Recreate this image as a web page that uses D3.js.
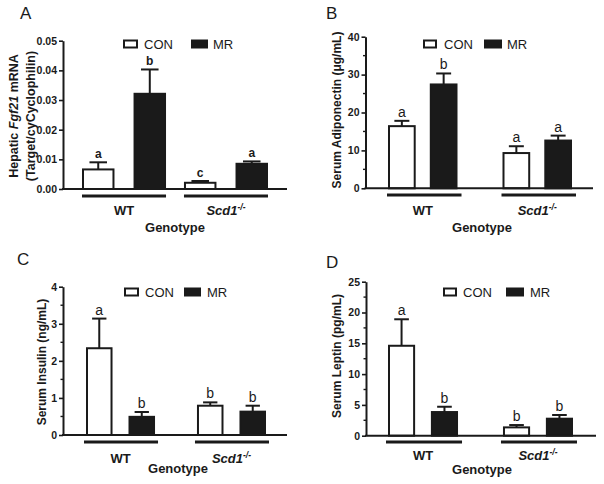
<!DOCTYPE html>
<html><head><meta charset="utf-8">
<script src="https://cdn.jsdelivr.net/npm/d3@7"></script>
<style>
body{margin:0;background:#fff}
svg{display:block}
text{font-family:"Liberation Sans",Arial,sans-serif;fill:#1a1a1a}
</style>
</head><body>
<svg id="chart" width="604" height="484"></svg>
<script>
// ---------- data ----------
const genotypes = ["WT", "Scd1"];
const treatments = ["CON", "MR"];

// A: Hepatic Fgf21 mRNA
const fgf21Con = [0.0066, 0.0021];
const fgf21ConErr = [0.0024, 0.0006];
const fgf21Mr = [0.0321, 0.0085];
const fgf21MrErr = [0.0082, 0.0008];
const fgf21Letters = [["a", "b"], ["c", "a"]];
const fgf21Ticks = [0, 0.01, 0.02, 0.03, 0.04, 0.05];
const fgf21TickLabels = ["0.00", "0.01", "0.02", "0.03", "0.04", "0.05"];

// B: Serum Adiponectin
const adipoCon = [16.4, 9.3];
const adipoConErr = [1.4, 1.8];
const adipoMr = [27.4, 12.6];
const adipoMrErr = [2.9, 1.3];
const adipoLetters = [["a", "b"], ["a", "a"]];
const adipoTicks = [0, 10, 20, 30, 40];
const adipoTickLabels = ["0", "10", "20", "30", "40"];

// C: Serum Insulin
const insulinCon = [2.34, 0.79];
const insulinConErr = [0.80, 0.09];
const insulinMr = [0.49, 0.63];
const insulinMrErr = [0.13, 0.16];
const insulinLetters = [["a", "b"], ["b", "b"]];
const insulinTicks = [0, 1, 2, 3, 4];
const insulinTickLabels = ["0", "1", "2", "3", "4"];

// D: Serum Leptin
const leptinCon = [14.6, 1.35];
const leptinConErr = [4.3, 0.38];
const leptinMr = [3.84, 2.76];
const leptinMrErr = [0.86, 0.6];
const leptinLetters = [["a", "b"], ["b", "b"]];
const leptinTicks = [0, 5, 10, 15, 20, 25];
const leptinTickLabels = ["0", "5", "10", "15", "20", "25"];

// ---------- layout ----------
const panels = [
  {id:"A", con:fgf21Con, conErr:fgf21ConErr, mr:fgf21Mr, mrErr:fgf21MrErr, letters:fgf21Letters,
   ticks:fgf21Ticks, tickLabels:fgf21TickLabels, minor:false, letterBold:true, letterSize:12,
   y0:189, y1:40.7, ax0:63, ax1:287, xb0:82, xb1:268, gp:0.176, sp:0.37, lineY:196, lineExt:[0,0],
   labelX:[14,31], labelY:116, labelSize:12.5, groupY:215, genoY:232, genoX:175,
   leg:{y:44, con:123, mr:191, conW:15, mrW:17, conT:144, mrT:213},
   letterPos:[20,19]},
  {id:"B", con:adipoCon, conErr:adipoConErr, mr:adipoMr, mrErr:adipoMrErr, letters:adipoLetters,
   ticks:adipoTicks, tickLabels:adipoTickLabels, minor:true, letterBold:false, letterSize:14,
   y0:188.3, y1:36.7, ax0:365.5, ax1:593, xb0:388, xb1:572, gp:0.393, sp:0.337, lineY:195, lineExt:[1,4],
   labelX:[337], labelY:110, labelSize:12, groupY:215, genoY:232, genoX:482,
   leg:{y:44, con:423, mr:484, conW:14, mrW:18, conT:444, mrT:507},
   letterPos:[326,19]},
  {id:"C", con:insulinCon, conErr:insulinConErr, mr:insulinMr, mrErr:insulinMrErr, letters:insulinLetters,
   ticks:insulinTicks, tickLabels:insulinTickLabels, minor:true, letterBold:false, letterSize:14,
   y0:435, y1:286.7, ax0:63, ax1:287, xb0:86, xb1:266, gp:0.378, sp:0.376, lineY:442, lineExt:[2,3],
   labelX:[42], labelY:362, labelSize:12, groupY:463, genoY:473, genoX:178,
   leg:{y:292, con:124, mr:184, conW:15, mrW:17, conT:145, mrT:207},
   letterPos:[17,265]},
  {id:"D", con:leptinCon, conErr:leptinConErr, mr:leptinMr, mrErr:leptinMrErr, letters:leptinLetters,
   ticks:leptinTicks, tickLabels:leptinTickLabels, minor:true, letterBold:false, letterSize:14,
   y0:435.7, y1:281.7, ax0:366, ax1:596, xb0:388, xb1:573, gp:0.391, sp:0.368, lineY:442, lineExt:[2,4],
   labelX:[337], labelY:356, labelSize:12, groupY:460, genoY:474, genoX:482,
   leg:{y:292, con:443, mr:506, conW:14, mrW:18, conT:463, mrT:530},
   letterPos:[326,268]}
];
const yLabels = {
  A: [["Hepatic ", ["Fgf21", "italic"], " mRNA"], ["(Target/cyCyclophilin)"]],
  B: [["Serum Adiponectin (μg/mL)"]],
  C: [["Serum Insulin (ng/mL)"]],
  D: [["Serum Leptin (pg/mL)"]]
};

const svg = d3.select("#chart");
svg.append("rect").attr("width", 604).attr("height", 484).attr("fill", "#fff");

panels.forEach(p => {
  const g = svg.append("g");
  const ymax = p.ticks[p.ticks.length - 1];
  const y = d3.scaleLinear().domain([0, ymax]).range([p.y0, p.y1]);
  const xg = d3.scaleBand().domain(genotypes).range([p.xb0, p.xb1]).paddingInner(p.gp).paddingOuter(0);
  const xs = d3.scaleBand().domain(treatments).range([0, xg.bandwidth()]).paddingInner(p.sp).paddingOuter(0);

  const rows = [];
  genotypes.forEach((gen, i) => {
    rows.push({gen, tr:"CON", v:p.con[i], e:p.conErr[i], l:p.letters[i][0]});
    rows.push({gen, tr:"MR", v:p.mr[i], e:p.mrErr[i], l:p.letters[i][1]});
  });

  // error bars (upper only)
  rows.forEach(r => {
    const cx = xg(r.gen) + xs(r.tr) + xs.bandwidth() / 2;
    const capW = xs.bandwidth() * 0.27;
    g.append("line").attr("x1", cx).attr("x2", cx).attr("y1", y(r.v)).attr("y2", y(r.v + r.e))
      .attr("stroke", "#1a1a1a").attr("stroke-width", 2);
    g.append("line").attr("x1", cx - capW).attr("x2", cx + capW).attr("y1", y(r.v + r.e)).attr("y2", y(r.v + r.e))
      .attr("stroke", "#1a1a1a").attr("stroke-width", 2);
    g.append("text").attr("x", cx).attr("y", y(r.v + r.e) - 4)
      .attr("text-anchor", "middle").attr("font-size", p.letterSize)
      .attr("font-weight", p.letterBold ? "bold" : "normal").text(r.l);
  });

  // bars
  g.selectAll("rect.bar").data(rows).join("rect").attr("class", "bar")
    .attr("x", r => xg(r.gen) + xs(r.tr) + 1)
    .attr("width", xs.bandwidth() - 2)
    .attr("y", r => y(r.v))
    .attr("height", r => y(0) - y(r.v))
    .attr("fill", r => r.tr === "CON" ? "#fff" : "#1a1a1a")
    .attr("stroke", "#1a1a1a").attr("stroke-width", 2);

  // y axis
  const ax = g.append("g").attr("transform", `translate(${p.ax0},0)`)
    .call(d3.axisLeft(y).tickValues(p.ticks).tickFormat((d, i) => p.tickLabels[i]).tickSize(4).tickSizeOuter(0).tickPadding(2));
  ax.select(".domain").attr("stroke", "#1a1a1a").attr("stroke-width", 2);
  ax.selectAll(".tick line").attr("stroke", "#1a1a1a").attr("stroke-width", 1.6);
  ax.selectAll(".tick text").attr("font-size", 10.5).attr("font-weight", "bold")
    .attr("font-family", '"Liberation Sans",Arial,sans-serif').attr("fill", "#1a1a1a");
  if (p.minor) {
    const step = p.ticks[1] - p.ticks[0];
    const minorVals = p.ticks.slice(0, -1).map(t => t + step / 2);
    g.selectAll("line.minor").data(minorVals).join("line").attr("class", "minor")
      .attr("x1", p.ax0 - 2.5).attr("x2", p.ax0).attr("y1", d => y(d)).attr("y2", d => y(d))
      .attr("stroke", "#1a1a1a").attr("stroke-width", 1.4);
  }
  // x axis line
  g.append("line").attr("x1", p.ax0 - 1).attr("x2", p.ax1).attr("y1", y(0)).attr("y2", y(0))
    .attr("stroke", "#1a1a1a").attr("stroke-width", 2);

  // group underlines and labels
  genotypes.forEach(gen => {
    g.append("line").attr("x1", xg(gen) - p.lineExt[0]).attr("x2", xg(gen) + xg.bandwidth() + p.lineExt[1])
      .attr("y1", p.lineY).attr("y2", p.lineY).attr("stroke", "#1a1a1a").attr("stroke-width", 3);
    const t = g.append("text").attr("x", xg(gen) + xg.bandwidth() / 2).attr("y", p.groupY)
      .attr("text-anchor", "middle").attr("font-size", 13).attr("font-weight", "bold");
    if (gen === "WT") t.text("WT");
    else {
      t.attr("font-style", "italic");
      t.append("tspan").text("Scd1");
      t.append("tspan").attr("dy", -5).attr("font-size", 8.5).text("-/-");
    }
  });
  g.append("text").attr("x", p.genoX).attr("y", p.genoY).attr("text-anchor", "middle")
    .attr("font-size", 13).attr("font-weight", "bold").text("Genotype");

  // y label
  yLabels[p.id].forEach((line, li) => {
    const t = g.append("text").attr("transform", `translate(${p.labelX[li]},${p.labelY}) rotate(-90)`)
      .attr("text-anchor", "middle").attr("dy", "0.35em").attr("font-size", p.labelSize).attr("font-weight", "bold");
    line.forEach(part => {
      if (Array.isArray(part)) t.append("tspan").attr("font-style", part[1]).text(part[0]);
      else t.append("tspan").text(part);
    });
  });

  // legend
  const L = p.leg;
  g.append("rect").attr("x", L.con + 1).attr("y", L.y - 3.5).attr("width", L.conW - 2).attr("height", 7)
    .attr("fill", "#fff").attr("stroke", "#1a1a1a").attr("stroke-width", 2);
  g.append("rect").attr("x", L.mr).attr("y", L.y - 4.5).attr("width", L.mrW).attr("height", 9)
    .attr("fill", "#1a1a1a");
  g.append("text").attr("x", L.conT).attr("y", L.y).attr("dy", "0.36em").attr("font-size", 13).text(treatments[0]);
  g.append("text").attr("x", L.mrT).attr("y", L.y).attr("dy", "0.36em").attr("font-size", 13).text(treatments[1]);

  // panel letter
  g.append("text").attr("x", p.letterPos[0]).attr("y", p.letterPos[1]).attr("font-size", 17)
    .attr("font-family", '"Open Sans","Liberation Sans",sans-serif').text(p.id);
});
</script>
</body></html>
